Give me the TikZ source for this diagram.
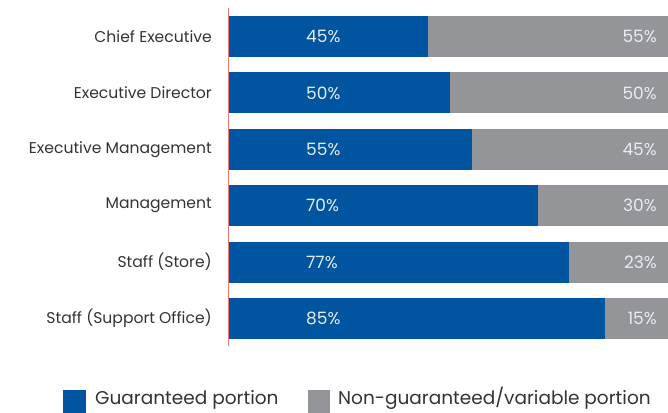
\documentclass[tikz,border=0pt]{standalone}
\usepackage{fontspec}
\setmainfont{Poppins}
\definecolor{gblue}{HTML}{0054A0}
\definecolor{ggray}{HTML}{939598}
\definecolor{axred}{HTML}{F07878}
\definecolor{lbl}{HTML}{333333}
\definecolor{pct}{HTML}{E6ECF4}
\begin{document}
\begin{tikzpicture}[x=1pt,y=-1pt,
  cat/.style={anchor=east,inner sep=0pt,text=lbl,font=\fontsize{15.6}{17}\selectfont},
  pl/.style={anchor=west,inner sep=0pt,text=pct,font=\fontsize{17}{19}\selectfont},
  pr/.style={anchor=east,inner sep=0pt,text=pct,font=\fontsize{17}{19}\selectfont},
  leg/.style={anchor=base west,inner sep=0pt,text=lbl,font=\fontsize{18.5}{20}\selectfont}]
\useasboundingbox (0,0) rectangle (668,412);
\begin{scope}
\clip (0,0) rectangle (668,412);
\foreach \i/\v/\name in {0/45/Chief Executive,1/50/Executive Director,2/55/Executive Management,3/70/Management,4/77/Staff (Store),5/85/Staff (Support Office)}{
  \pgfmathsetmacro{\yc}{36.5+56.4*\i}
  \pgfmathsetmacro{\xe}{229+4.42*\v}
  \pgfmathtruncatemacro{\w}{100-\v}
  \fill[gblue] (229,\yc-20.5) rectangle (\xe,\yc+20.5);
  \fill[ggray] (\xe,\yc-20.5) rectangle (671,\yc+20.5);
  \node[cat] (c\i) at (212,\yc) {\name};
  \node[pl] (b\i) at (306,\yc) {\v\%};
  \node[pr] (g\i) at (657,\yc) {\w\%};
}
\fill[gblue] (63,390) rectangle (86,413);
\fill[ggray] (308,390) rectangle (330,413);
\end{scope}
\draw[axred,line width=0.8pt] (228.6,8) -- (228.6,346);
\node[leg] (l1) at (95,404) {Guaranteed portion};
\node[leg] (l2) at (338,404) {Non-guaranteed/variable portion};
\end{tikzpicture}
\end{document}
